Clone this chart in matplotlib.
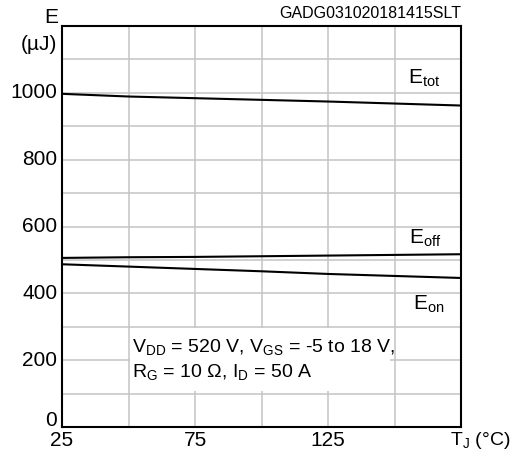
import matplotlib
matplotlib.use("Agg")
import matplotlib.pyplot as plt
from matplotlib.patches import Rectangle

plt.rcParams['font.family'] = ['Liberation Sans', 'DejaVu Sans']
plt.rcParams['mathtext.fontset'] = 'custom'
plt.rcParams['mathtext.rm'] = 'Liberation Sans'
plt.rcParams['mathtext.it'] = 'Liberation Sans'

# Data
tj = [25, 50, 75, 100, 125, 150, 175]
e_tot = [997, 989, 984, 979, 974, 968, 962]
e_off = [506, 508, 509, 511, 513, 515, 517]
e_on = [487, 480, 473, 466, 458, 452, 446]
x_ticks = [25, 75, 125]
y_ticks = [200, 400, 600, 800, 1000]

fig = plt.figure(figsize=(5.25, 4.51), dpi=100)
ax = fig.add_axes([62/525, 1-427/451, 399/525, 401/451])
ax.set_xlim(25, 175)
ax.set_ylim(0, 1200)

ax.set_xticks(range(25, 176, 25))
ax.set_yticks(range(0, 1201, 100))
ax.grid(True, color='#c4c4c4', lw=1.1, zorder=0)
ax.set_axisbelow(True)
ax.tick_params(length=0, labelbottom=False, labelleft=False)
for s in ax.spines.values():
    s.set_color('black')
    s.set_linewidth(1.5)
    s.set_zorder(5)

fs = 15
for v in y_ticks:
    ax.text(-0.012, v, str(v), transform=ax.get_yaxis_transform(), ha='right', va='center', fontsize=fs)
ax.text(-0.012, 20, '0', transform=ax.get_yaxis_transform(), ha='right', va='center', fontsize=fs)
for v in x_ticks:
    ax.text(v, -0.034, str(v), transform=ax.get_xaxis_transform(), ha='center', va='center', fontsize=fs)
ax.text(171.0, -0.034, r'T$_\mathrm{J}$ (°C)', transform=ax.get_xaxis_transform(), ha='left', va='center', fontsize=14)
ax.text(-0.01, 1.022, 'E', transform=ax.transAxes, ha='right', va='center', fontsize=fs)
ax.text(-0.012, 0.953, '(µJ)', transform=ax.transAxes, ha='right', va='center', fontsize=fs)
ax.text(1.0, 1.03, 'GADG031020181415SLT', transform=ax.transAxes, ha='right', va='center', fontsize=11.5)

ax.plot(tj, e_tot, color='black', lw=1.5, zorder=4)
ax.plot(tj, e_off, color='black', lw=1.5, zorder=4)
ax.plot(tj, e_on, color='black', lw=1.5, zorder=4)

ax.text(155, 1044, r'E$_\mathrm{tot}$', fontsize=fs, ha='left', va='center', zorder=4)
ax.text(155.3, 565, r'E$_\mathrm{off}$', fontsize=fs, ha='left', va='center', zorder=4)
ax.text(157, 368, r'E$_\mathrm{on}$', fontsize=fs, ha='left', va='center', zorder=4)

ax.add_patch(Rectangle((50.4, 108), 98, 189, facecolor='white', edgecolor='none', zorder=2))
ax.text(51.3, 239, r'V$_\mathrm{DD}$ = 520 V, V$_\mathrm{GS}$ = -5 to 18 V,', fontsize=14, ha='left', va='center', zorder=3)
ax.text(51.3, 165, r'R$_\mathrm{G}$ = 10 Ω, I$_\mathrm{D}$ = 50 A', fontsize=14, ha='left', va='center', zorder=3)

fig.savefig('out.png', dpi=100)
